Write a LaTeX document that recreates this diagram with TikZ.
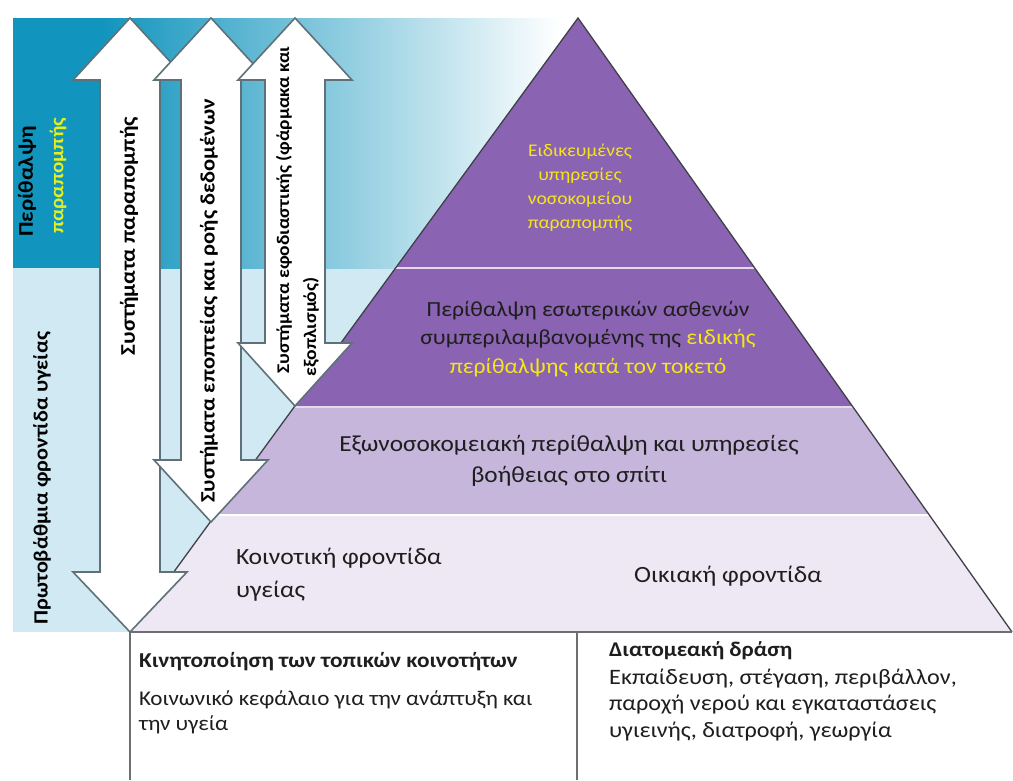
\documentclass[tikz,border=0pt]{standalone}
\usepackage{fontspec}
\setmainfont{Carlito}[FakeStretch=1.1]
\usetikzlibrary{calc}
\definecolor{tealdark}{HTML}{1194BD}
\definecolor{tealmid}{HTML}{55B8D5}
\definecolor{lightband}{HTML}{D0E9F2}
\definecolor{purpdark}{HTML}{8A63B2}
\definecolor{purpmid}{HTML}{C6B6DC}
\definecolor{purplight}{HTML}{EEE8F5}
\definecolor{sepline}{HTML}{E4DAEE}
\definecolor{edgegray}{HTML}{404048}
\definecolor{basegray}{HTML}{6E6E72}
\definecolor{arrowgray}{HTML}{5F7178}
\definecolor{yel}{HTML}{F4E51C}
\definecolor{yelgreen}{HTML}{E4EE20}
\definecolor{txtdark}{HTML}{1E1E1E}
\newcommand{\dblarr}[5]{%
  \draw[arrowbox] (#1,#2) -- (#1+57,#3) -- (#1+30,#3) -- (#1+30,#4) -- (#1+57,#4)
    -- (#1,#5) -- (#1-57,#4) -- (#1-30,#4) -- (#1-30,#3) -- (#1-57,#3) -- cycle;}
\begin{document}
\begin{tikzpicture}[x=1pt,y=-1pt,
  arrowbox/.style={fill=white, draw=arrowgray, line width=1.6pt, line join=miter},
  sepstyle/.style={draw=sepline, line width=2.5pt},
  tiertxt/.style={font=\fontsize{23}{31}\selectfont, text=txtdark, inner sep=0pt, align=center},
  bodytxt/.style={font=\fontsize{21}{26}\selectfont, text=txtdark, inner sep=0pt, align=left},
  boldtxt/.style={font=\bfseries\fontsize{21}{24}\selectfont, text=txtdark, inner sep=0pt},
  vtxt/.style={font=\bfseries\fontsize{20.5}{24}\selectfont, text=black, inner sep=0pt, rotate=90}]
\useasboundingbox (0,0) rectangle (1013,780);
\fill[white] (0,0) rectangle (1013,780);
% background bands
\fill[lightband] (13,268) rectangle (420,632);
\fill[tealdark] (13,18) rectangle (100,268);
\shade[left color=tealdark, middle color=tealmid, right color=white] (100,18) rectangle (560,268);
% pyramid
\coordinate (A) at (578,18);
\coordinate (BL) at (130,632);
\coordinate (BR) at (1012,632);
\coordinate (L1) at ($(A)!0.4072!(BL)$);
\coordinate (R1) at ($(A)!0.4072!(BR)$);
\coordinate (L2) at ($(A)!0.6336!(BL)$);
\coordinate (R2) at ($(A)!0.6336!(BR)$);
\coordinate (L3) at ($(A)!0.8094!(BL)$);
\coordinate (R3) at ($(A)!0.8094!(BR)$);
\fill[purpdark] (A) -- (R1) -- (L1) -- cycle;
\fill[purpdark] (L1) -- (R1) -- (R2) -- (L2) -- cycle;
\fill[purpmid] (L2) -- (R2) -- (R3) -- (L3) -- cycle;
\fill[purplight] (L3) -- (R3) -- (BR) -- (BL) -- cycle;
\draw[sepstyle] (L1) -- (R1);
\draw[sepstyle] (L2) -- (R2);
\draw[sepstyle, draw=white] (L3) -- (R3);
\draw[edgegray, line width=1.3pt] (BL) -- (A) -- (BR);
\draw[basegray, line width=2.5pt] (BL) -- (BR);
% bottom dividers
\coordinate (D1) at (130,780);
\coordinate (M0) at (577,632);
\coordinate (M1) at (577,780);
\draw[basegray, line width=2pt] (BL) -- (D1);
\draw[basegray, line width=2pt] (M0) -- (M1);
% double arrows
\dblarr{130}{18}{80}{572}{632}
\dblarr{211}{18}{80}{460}{522}
\dblarr{295}{18}{80}{343}{406}
% arrow labels
\node[vtxt, font=\bfseries\fontsize{20.9}{24}\selectfont] (a1) at (129,236) {Συστήματα παραπομπής};
\node[vtxt] (a2) at (209,301) {Συστήματα εποπτείας και ροής δεδομένων};
\node[vtxt, font=\bfseries\fontsize{17.8}{22}\selectfont, anchor=west] (a3a) at (284,374) {Συστήματα εφοδιαστικής (φάρμακα και};
\node[vtxt, font=\bfseries\fontsize{17.8}{22}\selectfont, anchor=west] (a3b) at (311,377) {εξοπλισμός)};
% left band labels
\node[vtxt, font=\bfseries\fontsize{20.9}{24}\selectfont, anchor=west] (l1) at (27,237) {Περίθαλψη};
\node[vtxt, font=\bfseries\fontsize{19.2}{24}\selectfont, anchor=west, text=yelgreen] (l2) at (58,234) {παραπομπής};
\node[vtxt, font=\bfseries\fontsize{20.2}{24}\selectfont] (l3) at (42,478) {Πρωτοβάθμια φροντίδα υγείας};
% pyramid labels
\node[tiertxt, font=\fontsize{17.8}{24}\selectfont, text=yel] (t1) at (580,188) {Ειδικευμένες\\υπηρεσίες\\νοσοκομείου\\παραπομπής};
\node[tiertxt, font=\fontsize{21.5}{28.5}\selectfont] (t2) at (588,339) {Περίθαλψη εσωτερικών ασθενών\\συμπεριλαμβανομένης της \textcolor{yel}{ειδικής}\\\textcolor{yel}{περίθαλψης κατά τον τοκετό}};
\node[tiertxt, font=\fontsize{23}{31}\selectfont] (t3) at (569,461) {Εξωνοσοκομειακή περίθαλψη και υπηρεσίες\\βοήθειας στο σπίτι};
\node[tiertxt, align=left, anchor=west, font=\fontsize{23.3}{33}\selectfont] (t4a) at (236,575) {Κοινοτική φροντίδα\\υγείας};
\node[tiertxt, font=\fontsize{23.3}{31}\selectfont] (t4b) at (728,576) {Οικιακή φροντίδα};
% bottom boxes
\node[boldtxt, anchor=west, font=\bfseries\fontsize{21.2}{24}\selectfont] (b1) at (139,662) {Κινητοποίηση των τοπικών κοινοτήτων};
\node[bodytxt, anchor=west, font=\fontsize{21}{25}\selectfont] (b2) at (139,712) {Κοινωνικό κεφάλαιο για την ανάπτυξη και\\την υγεία};
\node[boldtxt, anchor=west, font=\bfseries\fontsize{20.9}{24}\selectfont] (b3) at (609,651) {Διατομεακή δράση};
\node[bodytxt, anchor=west, font=\fontsize{22}{26.5}\selectfont] (b4) at (609,705) {Εκπαίδευση, στέγαση, περιβάλλον,\\παροχή νερού και εγκαταστάσεις\\υγιεινής, διατροφή, γεωργία};
\end{tikzpicture}
\end{document}
